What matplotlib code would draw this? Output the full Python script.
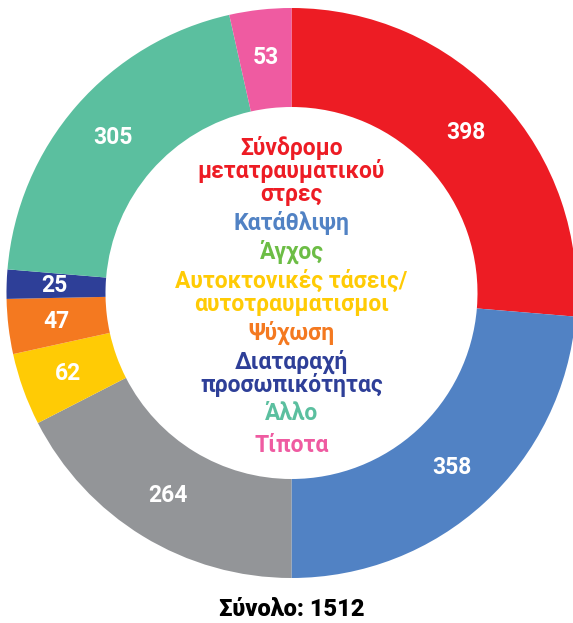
import matplotlib.pyplot as plt
import numpy as np

values = [398, 358, 264, 62, 47, 25, 305, 53]
slice_colors = ["#ED1C24", "#5182C4", "#939598", "#FFCB05",
                "#F47920", "#2E3F98", "#5BBF9F", "#EF5BA1"]

legend_lines = [
    ("Σύνδρομο", "#ED1C24"),
    ("μετατραυματικού", "#ED1C24"),
    ("στρες", "#ED1C24"),
    ("Κατάθλιψη", "#5182C4"),
    ("Άγχος", "#6CBD45"),
    ("Αυτοκτονικές τάσεις/", "#FFCB05"),
    ("αυτοτραυματισμοι", "#FFCB05"),
    ("Ψύχωση", "#F47920"),
    ("Διαταραχή", "#2E3F98"),
    ("προσωπικότητας", "#2E3F98"),
    ("Άλλο", "#5BBF9F"),
    ("Τίποτα", "#EF5BA1"),
]
legend_y = [148, 171, 194, 223, 252, 281, 304, 333, 362, 385, 414, 445]
total = "Σύνολο: 1512"

W, H = 573, 623
fig = plt.figure(figsize=(W / 100, H / 100), dpi=100)
ax = fig.add_axes([0, 0, 1, 1])

cx, cy = 291.5, H - 293
r_out, r_in = 285, 186

wedges, _ = ax.pie(values, colors=slice_colors, center=(cx, cy), radius=r_out,
                   startangle=90, counterclock=False,
                   wedgeprops=dict(width=r_out - r_in, linewidth=0))

r_mid = 237
for w, v in zip(wedges, values):
    ang = np.deg2rad((w.theta1 + w.theta2) / 2)
    ax.text(cx + r_mid * np.cos(ang), cy + r_mid * np.sin(ang), str(v),
            ha="center", va="center", color="white", fontsize=16.5,
            fontweight="bold", family="Roboto")

for (txt, col), y in zip(legend_lines, legend_y):
    ax.text(cx, H - y, txt, ha="center", va="center", color=col,
            fontsize=16.5, fontweight="bold", family="Roboto")

ax.text(cx, H - 610, total, ha="center", va="center", color="black",
        fontsize=17, fontweight="black", family="Roboto")

ax.set_xlim(0, W)
ax.set_ylim(0, H)
ax.set_aspect("equal")
ax.axis("off")
fig.savefig("out.png", dpi=100)
